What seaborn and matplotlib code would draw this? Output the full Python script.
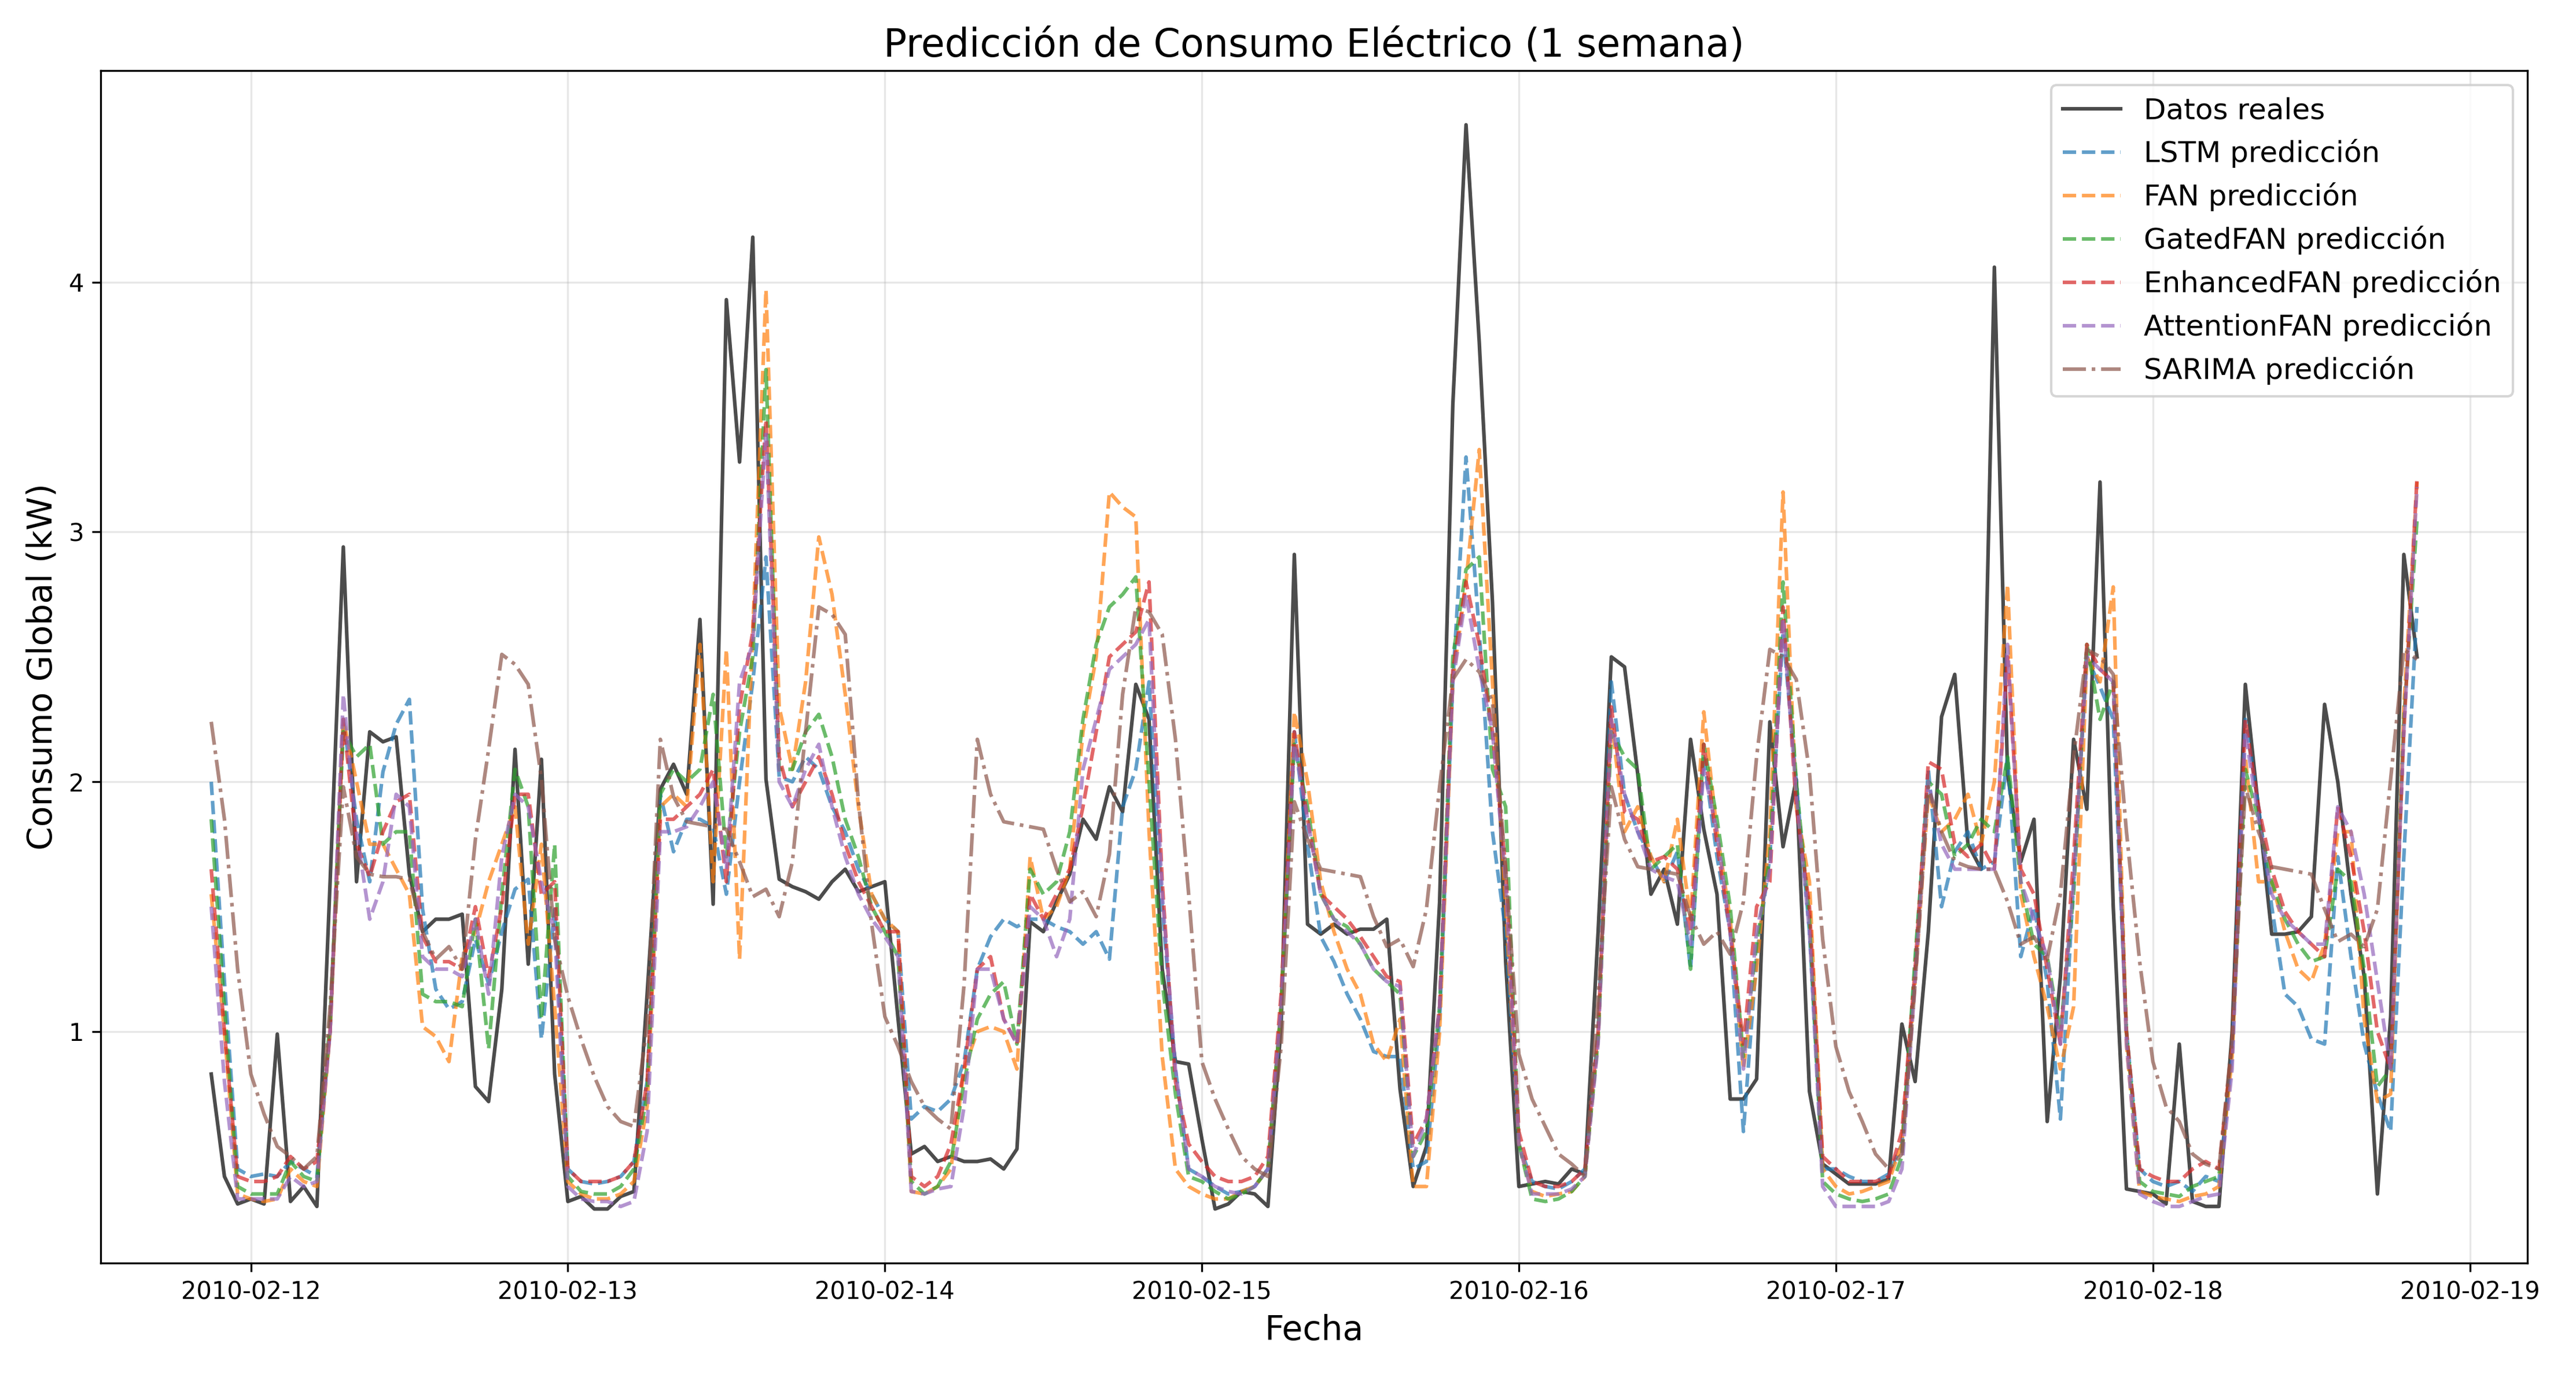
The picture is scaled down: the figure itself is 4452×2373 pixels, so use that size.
import numpy as np
import pandas as pd
import seaborn as sns
import matplotlib.pyplot as plt

# ---------- data (hourly, 2010-02-11 21:00 -> 2010-02-18 20:00) ----------
start = "2010-02-11 21:00"

real = [0.83,0.42,0.31,0.33,0.31,0.99,0.32,0.38,0.30,1.60,2.94,1.60,
        2.20,2.16,2.18,1.63,1.40,1.45,1.45,1.47,0.78,0.72,1.17,2.13,
        1.27,2.09,0.83,0.32,0.34,0.29,0.29,0.34,0.36,1.15,1.97,2.07,
        1.95,2.65,1.51,3.93,3.28,4.18,2.01,1.61,1.58,1.56,1.53,1.60,
        1.65,1.56,1.58,1.60,1.05,0.51,0.54,0.48,0.50,0.48,0.48,0.49,
        0.45,0.53,1.44,1.40,1.52,1.63,1.85,1.77,1.98,1.88,2.39,2.25,
        1.25,0.88,0.87,0.57,0.29,0.31,0.36,0.35,0.30,1.03,2.91,1.43,
        1.39,1.43,1.39,1.41,1.41,1.45,0.77,0.38,0.54,1.52,3.51,4.63,
        3.76,2.72,1.28,0.38,0.39,0.40,0.39,0.45,0.43,1.40,2.50,2.46,
        2.03,1.55,1.65,1.43,2.17,1.81,1.55,0.73,0.73,0.81,2.24,1.74,
        2.01,0.76,0.47,0.43,0.39,0.39,0.39,0.41,1.03,0.80,1.40,2.26,
        2.43,1.75,1.65,4.06,2.03,1.68,1.85,0.64,1.22,2.17,1.89,3.20,
        1.50,0.37,0.36,0.35,0.31,0.95,0.32,0.30,0.30,1.00,2.39,1.89,
        1.39,1.39,1.40,1.46,2.31,2.00,1.55,1.22,0.35,1.06,2.91,2.50]

lstm = [2.00,1.20,0.45,0.42,0.43,0.42,0.48,0.45,0.42,1.00,2.25,1.85,
        1.60,2.04,2.23,2.33,1.49,1.17,1.09,1.12,1.37,1.19,1.40,1.57,
        1.61,0.97,1.49,0.45,0.40,0.39,0.40,0.42,0.48,0.80,1.95,1.72,
        1.85,1.85,1.82,1.55,2.00,2.40,2.90,2.02,2.00,2.10,2.05,1.90,
        1.80,1.65,1.55,1.45,1.40,0.65,0.70,0.68,0.73,0.88,1.25,1.38,
        1.45,1.42,1.45,1.45,1.42,1.40,1.35,1.40,1.29,1.90,2.05,2.40,
        1.50,0.85,0.45,0.42,0.38,0.35,0.36,0.38,0.45,1.10,2.20,1.75,
        1.38,1.28,1.15,1.05,0.92,0.90,0.90,0.45,0.48,1.05,2.40,3.30,
        2.60,1.80,1.40,0.55,0.40,0.38,0.37,0.40,0.45,1.00,2.40,1.95,
        1.80,1.70,1.60,1.72,1.25,2.10,1.70,1.40,0.60,1.30,1.70,2.60,
        2.00,1.40,0.45,0.45,0.42,0.40,0.40,0.43,0.55,1.25,2.05,1.50,
        1.72,1.80,1.65,1.68,2.10,1.30,1.50,1.20,0.65,1.60,2.50,2.38,
        2.25,1.00,0.45,0.40,0.38,0.40,0.36,0.42,0.40,0.90,2.25,1.90,
        1.50,1.15,1.10,0.97,0.95,1.70,1.30,0.95,0.75,0.60,1.70,2.70]

fan = [1.55,1.00,0.35,0.33,0.32,0.33,0.45,0.40,0.38,1.00,2.25,2.00,
       1.75,1.75,1.65,1.55,1.02,0.98,0.88,1.30,1.40,1.60,1.75,1.90,
       1.35,1.75,1.10,0.40,0.35,0.33,0.33,0.35,0.40,0.70,1.90,1.95,
       1.90,2.55,1.60,2.53,1.29,2.60,3.97,2.30,2.05,2.40,2.98,2.75,
       2.35,1.90,1.55,1.45,1.40,0.36,0.35,0.38,0.45,0.85,1.00,1.02,
       1.00,0.85,1.70,1.45,1.50,1.65,2.20,2.50,3.16,3.10,3.06,1.80,
       0.90,0.45,0.38,0.35,0.33,0.33,0.36,0.38,0.45,1.10,2.28,2.00,
       1.60,1.40,1.25,1.15,0.95,0.88,1.05,0.38,0.38,1.00,2.40,2.80,
       3.33,2.40,1.50,0.55,0.36,0.34,0.35,0.36,0.42,0.97,2.25,1.80,
       1.90,1.70,1.60,1.85,1.45,2.28,1.80,1.45,0.85,1.25,1.80,3.16,
       1.90,1.60,0.45,0.38,0.35,0.36,0.38,0.40,0.55,1.20,1.95,1.80,
       1.85,1.95,1.75,2.00,2.79,1.55,1.30,1.10,0.85,1.10,2.50,2.40,
       2.78,0.95,0.36,0.34,0.33,0.32,0.34,0.35,0.38,0.90,2.10,1.60,
       1.60,1.40,1.25,1.20,1.35,1.80,1.80,1.05,0.72,0.75,2.30,3.20]

gated = [1.85,1.10,0.38,0.35,0.35,0.35,0.48,0.42,0.40,1.05,2.20,2.10,
         2.15,1.75,1.80,1.80,1.15,1.12,1.12,1.10,1.45,0.93,1.55,2.05,
         1.90,1.05,1.75,0.42,0.36,0.35,0.35,0.38,0.45,0.75,1.95,2.05,
         2.00,2.05,2.35,1.70,2.20,2.50,3.65,2.05,2.05,2.20,2.27,2.10,
         1.85,1.70,1.50,1.40,1.30,0.40,0.35,0.38,0.48,0.80,1.05,1.15,
         1.20,0.95,1.65,1.55,1.60,1.80,2.25,2.55,2.70,2.75,2.82,2.00,
         1.20,0.75,0.42,0.40,0.36,0.33,0.35,0.38,0.45,1.10,2.15,1.90,
         1.55,1.45,1.42,1.35,1.25,1.20,1.15,0.50,0.60,1.10,2.50,2.85,
         2.90,2.05,1.90,0.55,0.33,0.32,0.33,0.36,0.42,0.97,2.20,2.10,
         2.05,1.65,1.70,1.75,1.25,2.15,1.85,1.50,0.90,1.35,1.70,2.80,
         2.00,1.45,0.40,0.35,0.33,0.32,0.33,0.35,0.50,1.30,2.00,1.95,
         1.70,1.75,1.85,1.80,2.10,1.60,1.35,1.30,1.00,1.55,2.55,2.25,
         2.40,1.00,0.40,0.36,0.35,0.34,0.38,0.40,0.42,0.95,2.05,1.85,
         1.60,1.45,1.35,1.28,1.30,1.65,1.60,1.25,0.78,0.85,2.25,3.05]

enhanced = [1.65,1.00,0.42,0.40,0.40,0.42,0.50,0.45,0.48,1.00,2.25,1.75,
            1.62,1.80,1.92,1.95,1.38,1.28,1.28,1.25,1.50,1.22,1.50,1.95,
            1.95,1.55,1.60,0.45,0.40,0.40,0.40,0.42,0.48,0.80,1.85,1.85,
            1.90,1.95,2.05,1.60,2.30,2.60,3.45,2.10,1.90,2.00,2.10,1.95,
            1.75,1.60,1.50,1.40,1.40,0.42,0.38,0.42,0.55,0.85,1.25,1.30,
            1.05,0.95,1.55,1.45,1.55,1.65,1.90,2.20,2.50,2.55,2.60,2.80,
            1.60,0.80,0.55,0.48,0.42,0.40,0.40,0.42,0.50,1.15,2.20,1.85,
            1.55,1.50,1.45,1.38,1.30,1.22,1.20,0.55,0.65,1.10,2.45,2.80,
            2.55,2.20,1.65,0.60,0.40,0.38,0.38,0.40,0.45,1.00,2.30,1.88,
            1.85,1.68,1.70,1.65,1.40,2.15,1.75,1.40,0.95,1.50,1.60,2.70,
            1.90,1.50,0.50,0.45,0.40,0.40,0.40,0.42,0.60,1.25,2.08,2.05,
            1.75,1.70,1.75,1.65,2.50,1.65,1.55,1.25,0.95,1.70,2.55,2.45,
            2.40,1.00,0.45,0.42,0.40,0.40,0.45,0.48,0.45,0.95,2.25,1.90,
            1.65,1.48,1.40,1.35,1.30,1.90,1.70,1.40,1.00,0.85,2.20,3.22]

attention = [1.50,0.80,0.33,0.33,0.33,0.33,0.42,0.38,0.40,1.00,2.35,1.80,
             1.45,1.60,1.95,1.90,1.30,1.25,1.25,1.22,1.45,1.15,1.70,1.95,
             1.90,1.60,1.40,0.38,0.33,0.32,0.32,0.30,0.32,0.60,1.80,1.80,
             1.82,1.90,2.00,1.65,2.40,2.55,3.40,2.00,1.90,2.05,2.15,1.90,
             1.70,1.55,1.45,1.38,1.30,0.36,0.35,0.37,0.38,0.70,1.25,1.25,
             1.05,0.95,1.50,1.45,1.30,1.45,2.05,2.25,2.45,2.50,2.55,2.65,
             1.55,0.85,0.45,0.42,0.38,0.36,0.35,0.38,0.45,1.10,2.15,1.85,
             1.55,1.45,1.40,1.35,1.25,1.20,1.18,0.50,0.65,1.10,2.40,2.75,
             2.45,2.20,1.60,0.55,0.35,0.35,0.35,0.37,0.42,0.95,2.25,1.95,
             1.80,1.65,1.62,1.60,1.35,2.05,1.80,1.40,0.85,1.40,1.65,2.65,
             1.95,1.40,0.38,0.30,0.30,0.30,0.30,0.32,0.45,1.20,2.00,1.75,
             1.65,1.65,1.65,1.65,2.55,1.60,1.45,1.30,0.95,1.60,2.50,2.45,
             2.40,0.95,0.35,0.32,0.30,0.30,0.32,0.34,0.35,0.85,2.20,1.85,
             1.55,1.45,1.40,1.35,1.35,1.90,1.80,1.55,1.20,0.85,2.20,3.18]

sarima = [2.24,1.85,1.25,0.83,0.67,0.54,0.50,0.45,0.50,1.10,1.98,1.70,
          1.63,1.62,1.62,1.61,1.40,1.29,1.34,1.25,1.77,2.13,2.51,2.47,
          2.39,2.01,1.37,1.14,0.97,0.82,0.70,0.64,0.62,1.03,2.17,1.94,
          1.84,1.83,1.82,1.81,1.68,1.54,1.57,1.46,1.68,2.20,2.70,2.67,
          2.59,1.92,1.43,1.06,0.94,0.80,0.70,0.65,0.61,1.19,2.17,1.95,
          1.84,1.83,1.82,1.81,1.65,1.52,1.56,1.46,1.71,2.35,2.70,2.68,
          2.59,2.17,1.55,0.88,0.73,0.61,0.50,0.45,0.42,0.94,1.92,1.77,
          1.65,1.64,1.63,1.62,1.46,1.34,1.37,1.26,1.49,1.98,2.41,2.49,
          2.44,2.32,1.65,0.91,0.73,0.62,0.51,0.47,0.42,1.13,1.98,1.77,
          1.66,1.65,1.64,1.63,1.46,1.35,1.40,1.31,1.52,2.10,2.53,2.50,
          2.41,2.04,1.37,0.94,0.76,0.64,0.51,0.45,0.51,1.19,1.98,1.80,
          1.68,1.66,1.65,1.65,1.52,1.35,1.38,1.29,1.55,2.10,2.53,2.50,
          2.43,1.80,1.28,0.88,0.70,0.64,0.51,0.47,0.45,0.97,1.98,1.80,
          1.66,1.65,1.64,1.63,1.49,1.36,1.39,1.34,1.49,2.01,2.53,2.49]

fechas = pd.date_range(start, periods=len(real), freq="h")

# ---------- plot ----------
fig, ax = plt.subplots(figsize=(14.84, 7.91), dpi=300)

sns.lineplot(x=fechas, y=real, ax=ax, color="black", alpha=0.7, linewidth=1.5,
             label="Datos reales")
preds = [
    (lstm, "LSTM predicción", "tab:blue"),
    (fan, "FAN predicción", "tab:orange"),
    (gated, "GatedFAN predicción", "tab:green"),
    (enhanced, "EnhancedFAN predicción", "tab:red"),
    (attention, "AttentionFAN predicción", "tab:purple"),
]
for vals, name, col in preds:
    sns.lineplot(x=fechas, y=vals, ax=ax, color=col, alpha=0.7, linewidth=1.5,
                 linestyle="--", label=name)
sns.lineplot(x=fechas, y=sarima, ax=ax, color="tab:brown", alpha=0.7,
             linewidth=1.5, linestyle="-.", label="SARIMA predicción")

ax.set_title("Predicción de Consumo Eléctrico (1 semana)", fontsize=16)
ax.set_xlabel("Fecha", fontsize=14)
ax.set_ylabel("Consumo Global (kW)", fontsize=14)
ax.set_yticks([1, 2, 3, 4])
ax.grid(True, alpha=0.3)
ax.legend(loc="upper right", fontsize=12)

plt.tight_layout()
plt.savefig("out.png", dpi=300)
